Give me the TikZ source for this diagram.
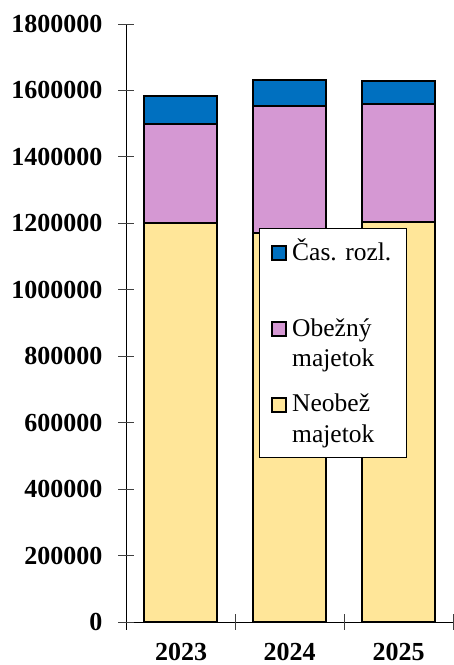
\documentclass[tikz,border=0pt]{standalone}
\usepackage{fontspec}
\setmainfont{Liberation Serif}
\definecolor{casblue}{RGB}{0,112,192}
\definecolor{obezpurple}{RGB}{213,152,211}
\definecolor{neobyellow}{RGB}{255,230,153}

\begin{document}
\begin{tikzpicture}[x=1pt,y=-1pt,
  barseg/.style={draw=black,line width=2pt},
  axisline/.style={draw=black,line width=1pt},
  tickline/.style={draw=black!75,line width=1pt},
  ylab/.style={anchor=east,inner sep=0pt,font=\fontsize{26pt}{30pt}\selectfont\bfseries},
  xlab/.style={anchor=base,inner sep=0pt,font=\fontsize{26pt}{30pt}\selectfont\bfseries},
  legsquare/.style={draw=black,line width=1.5pt},
  legtext/.style={anchor=base west,inner sep=0pt,align=left,font=\fontsize{25.5pt}{30.5pt}\selectfont}]
\fill [color=white] (0, 0) rectangle (454, 665);
\useasboundingbox (0, 0) rectangle (454, 665);

% osi
\draw [axisline] (126, 24) -- (126, 630);
\draw [axisline] (126, 622) -- (453, 622);
\foreach \y/\lab [count=\i] in {622/0, 555.6/200000, 489.1/400000, 422.7/600000, 356.2/800000,
    289.8/1000000, 223.3/1200000, 156.9/1400000, 90.4/1600000, 24/1800000} {
  \draw [tickline] (118, \y) -- (134, \y);
  \node [ylab] (ylab\i) at (102.5, \y) {\lab};
}
\foreach \x in {235, 344, 453}
  \draw [tickline] (\x, 614) -- (\x, 630);

% stlpce
\filldraw [barseg, fill=neobyellow] (144, 622) rectangle (217, 223);
\filldraw [barseg, fill=obezpurple] (144, 223) rectangle (217, 124);
\filldraw [barseg, fill=casblue] (144, 124) rectangle (217, 96);

\filldraw [barseg, fill=neobyellow] (253, 622) rectangle (326, 233);
\filldraw [barseg, fill=obezpurple] (253, 233) rectangle (326, 106);
\filldraw [barseg, fill=casblue] (253, 106) rectangle (326, 80);

\filldraw [barseg, fill=neobyellow] (362, 622) rectangle (435, 222);
\filldraw [barseg, fill=obezpurple] (362, 222) rectangle (435, 104);
\filldraw [barseg, fill=casblue] (362, 104) rectangle (435, 81);

\node [xlab] (rok2023) at (181, 660.5) {2023};
\node [xlab] (rok2024) at (289.5, 660.5) {2024};
\node [xlab] (rok2025) at (398.5, 660.5) {2025};

% legenda
\filldraw [draw=black, fill=white, line width=1pt] (259, 228) rectangle (406, 457);
\filldraw [legsquare, fill=casblue] (272, 246) rectangle (286, 260);
\node [legtext] (legcas) at (292, 260) {Čas. rozl.};
\filldraw [legsquare, fill=obezpurple] (272, 322) rectangle (286, 336);
\node [legtext] (legobez) at (292, 366.5) {Obežný\\majetok};
\filldraw [legsquare, fill=neobyellow] (272, 398) rectangle (286, 412);
\node [legtext] (legneob) at (292, 442) {Neobež\\majetok};
\end{tikzpicture}
\end{document}
